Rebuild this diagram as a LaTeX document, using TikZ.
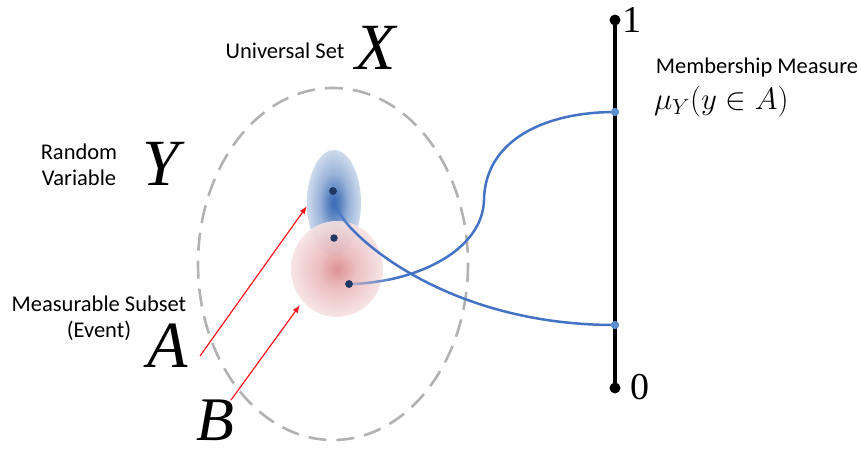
\documentclass[tikz,border=0pt]{standalone}
\usepackage{fix-cm}
\usepackage{fontspec}
\setmainfont{Liberation Serif}
\newfontfamily\calib{Carlito}
\usetikzlibrary{arrows.meta,fadings}

\definecolor{curveblue}{RGB}{68,114,196}
\definecolor{dotnavy}{RGB}{31,56,100}
\definecolor{endblue}{RGB}{91,143,207}
\definecolor{dashgray}{RGB}{178,178,178}
\definecolor{blobblue}{RGB}{55,105,180}
\definecolor{blobred}{RGB}{212,112,116}
\definecolor{arrowred}{RGB}{255,20,30}

\pgfdeclareradialshading{blueblob}{\pgfpoint{0bp}{0bp}}{color(0bp)=(blobblue); color(5bp)=(blobblue!85!white); color(14bp)=(blobblue!50!white); color(26bp)=(blobblue!22!white); color(40bp)=(blobblue!9!white); color(50bp)=(blobblue!4!white)}
\pgfdeclareradialshading{redblob}{\pgfpoint{0bp}{0bp}}{color(0bp)=(blobred!85!white); color(10bp)=(blobred!50!white); color(24bp)=(blobred!22!white); color(40bp)=(blobred!11!white); color(50bp)=(blobred!8!white)}

\tikzfading[name=fadeA, left color=transparent!75, right color=transparent!0]
\tikzfading[name=fadeB, top color=transparent!75, bottom color=transparent!0]

\tikzset{
  sanslabel/.style={font=\calib\fontsize{22.5}{26}\selectfont, inner sep=0pt, align=center},
  biglet/.style={font=\fontsize{66}{66}\selectfont\itshape, inner sep=0pt},
  numlabel/.style={font=\fontsize{38}{38}\selectfont, inner sep=0pt},
  navydot/.style={circle, fill=dotnavy, inner sep=0pt, minimum size=7.5pt},
  enddot/.style={circle, fill=endblue, inner sep=0pt, minimum size=8pt},
  axisdot/.style={circle, fill=black, inner sep=0pt, minimum size=11pt},
  bluecurve/.style={draw=curveblue, line width=2.5pt},
  redarrow/.style={draw=arrowred, line width=1.2pt, -{Latex[length=8pt,width=6pt]}},
}

\begin{document}
\begin{tikzpicture}[x=1pt,y=-1pt]
\useasboundingbox (0,0) rectangle (861,455);

% blobs
\shade[shading=blueblob] (334,203) ellipse [x radius=27, y radius=53];
\shade[shading=redblob, opacity=0.9] (337,269) ellipse [x radius=46, y radius=48];

% universal set
\draw[dashgray, line width=2.6pt, dash pattern=on 18pt off 10pt] (333,264) ellipse [x radius=135, y radius=176];

% axis
\node[axisdot] (top) at (615,20) {};
\node[axisdot] (bot) at (615,388) {};
\draw[line width=4pt] (top.center) -- (bot.center);
\node[numlabel] (one) at (632,20) {1};
\node[numlabel] (zero) at (640,387) {0};

% points
\node[navydot] (d1) at (333,191) {};
\node[navydot] (d2) at (334,238) {};
\node[navydot] (d3) at (349,284) {};
\node[enddot] (e1) at (615,112) {};
\node[enddot] (e0) at (615,325) {};
\coordinate (s1) at (392,279);
\coordinate (s2) at (350,227);

% curves
\draw[bluecurve, path fading=fadeA] (d3.center) .. controls (362,284) and (377,282) .. (s1);
\draw[bluecurve] (s1) .. controls (445,267) and (483,238) .. (484,200) .. controls (485,140) and (545,112) .. (e1.center);
\draw[bluecurve, path fading=fadeB] (d1.center) .. controls (333,205) and (340,216) .. (s2);
\draw[bluecurve] (s2) .. controls (380,260) and (470,325) .. (e0.center);
\node[navydot] at (d1) {};
\node[navydot] at (d3) {};
\node[enddot] at (e1) {};
\node[enddot] at (e0) {};

% labels
\node[sanslabel] (us) at (285,51) {Universal Set};
\node[biglet] (X) at (376,48) {X};
\node[sanslabel] (rv) at (79,165) {Random\\Variable};
\node[biglet] (Y) at (161,164) {Y};
\node[sanslabel] (ms) at (99,318) {Measurable Subset\\(Event)};
\node[biglet] (A) at (168,346) {A};
\node[biglet, font=\fontsize{62}{62}\selectfont\itshape] (B) at (215,420) {B};
\node[sanslabel] (mm) at (757,67) {Membership Measure};
\node[inner sep=0pt, anchor=west, font=\fontsize{31}{31}\selectfont] (mu) at (654,102) {$\mu_Y(y\in A)$};

% arrows
\coordinate (aA1) at (200,356);
\coordinate (aA2) at (307,206);
\coordinate (aB1) at (231,400);
\coordinate (aB2) at (300,305);
\draw[redarrow] (aA1) -- (aA2);
\draw[redarrow] (aB1) -- (aB2);
\end{tikzpicture}
\end{document}
